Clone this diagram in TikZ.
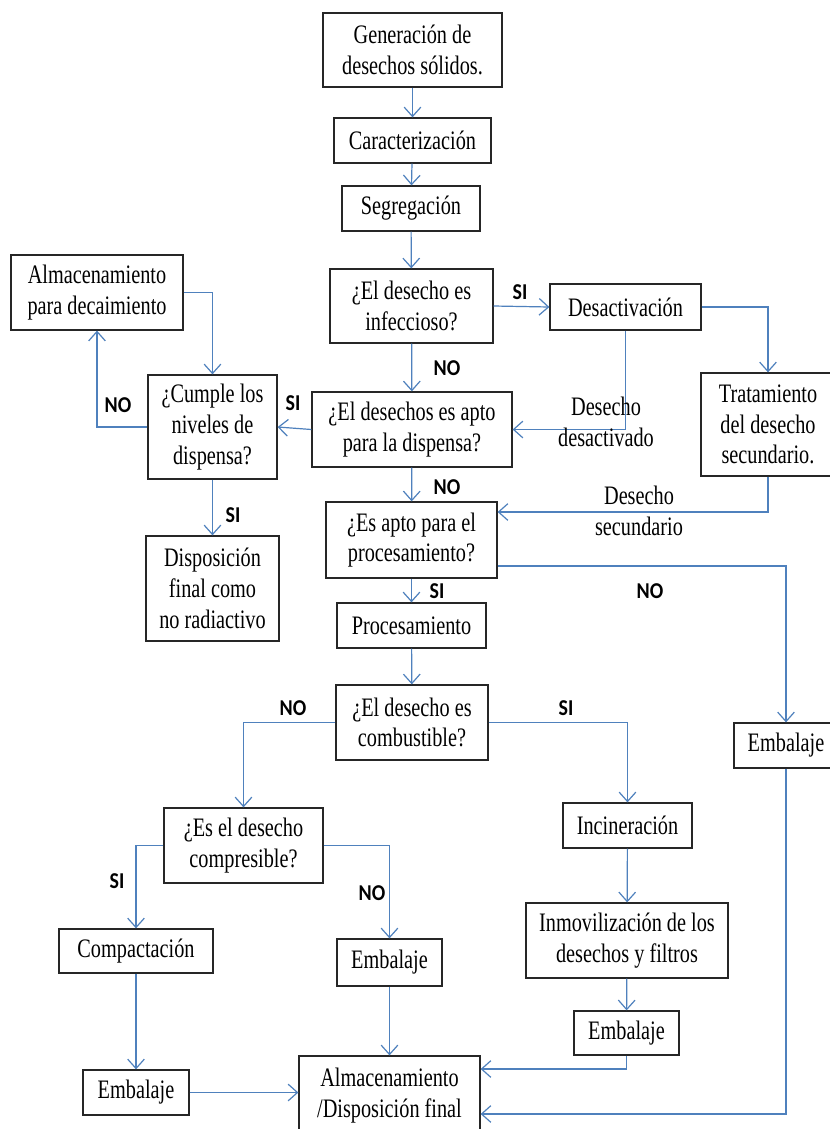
\documentclass[tikz,border=0pt]{standalone}
\usepackage{fontspec}
\setmainfont{Liberation Serif}[FakeStretch=0.76]
\newfontfamily\labfont{Carlito}[FakeStretch=0.88]
\usetikzlibrary{arrows.meta}
\definecolor{linec}{HTML}{4F81BD}
\definecolor{boxc}{HTML}{262626}
\newcommand\pbox[6]{\node[box, minimum width={(#4-#2)*0.75pt}, minimum height={(#5-#3)*0.75pt}] (#1) at ({(#2+#4)/2},{(#3+#5)/2}) {#6};}
\begin{document}
\begin{tikzpicture}[x=0.75pt,y=-0.75pt,
  box/.style={draw=boxc, line width=0.95pt, fill=white, align=center, inner sep=0pt, font=\fontsize{20}{23}\selectfont},
  arr/.style={draw=linec, line width=0.9pt, -{Straight Barb[length=7pt,width=12.5pt]}},
  lab/.style={font=\labfont\bfseries\fontsize{17}{19}\selectfont, inner sep=0pt},
  note/.style={font=\fontsize{20}{23}\selectfont, align=center, inner sep=0pt}]
\useasboundingbox (0,0) rectangle (830,1129);
\clip (0,0) rectangle (830,1129);
\fill[white] (0,0) rectangle (830,1129);

\pbox{gen}{323}{13}{502}{87}{Generación de\\desechos sólidos.}
\pbox{car}{334}{118}{491}{163}{Caracterización}
\pbox{seg}{342}{186}{480}{231}{Segregación}
\pbox{inf}{330}{269}{493}{343}{¿El desecho es\\infeccioso?}
\pbox{des}{550}{284}{701}{330}{Desactivación}
\pbox{alm}{11}{255}{183}{330}{Almacenamiento\\para decaimiento}
\pbox{cum}{148}{375}{277}{479}{¿Cumple los\\niveles de\\dispensa?}
\pbox{apto}{312}{392}{512}{467}{¿El desechos es apto\\para la dispensa?}
\pbox{trat}{701}{373}{835}{476}{Tratamiento\\del desecho\\secundario.}
\pbox{disp}{146}{536}{279}{641}{Disposición\\final como\\no radiactivo}
\pbox{proc}{326}{502}{497}{578}{¿Es apto para el\\procesamiento?}
\pbox{embR}{734}{723}{838}{768}{Embalaje}
\pbox{procm}{337}{603}{486}{648}{Procesamiento}
\pbox{comb}{336}{685}{488}{760}{¿El desecho es\\combustible?}
\pbox{compr}{164}{808}{323}{883}{¿Es el desecho\\compresible?}
\pbox{inc}{563}{803}{692}{848}{Incineración}
\pbox{compa}{59}{929}{213}{973}{Compactación}
\pbox{embM}{337}{939}{442}{986}{Embalaje}
\pbox{inm}{526}{903}{728}{978}{Inmovilización de los\\desechos y filtros}
\pbox{embI}{574}{1011}{679}{1055}{Embalaje}
\pbox{embL}{83}{1070}{189}{1115}{Embalaje}
\pbox{fin}{299}{1056}{480}{1135}{Almacenamiento\\/Disposición final}

\draw[arr] (gen) -- (car);
\draw[arr] (car) -- (seg);
\draw[arr] (seg) -- (inf);
\draw[arr] (inf.east) -- (des.west);
\draw[arr] (des.east) -| (trat.north);
\draw[arr] (des.south) |- (apto.east);
\draw[arr] (inf) -- (apto);
\draw[arr] (apto.west) -- (cum.east);
\draw[arr] (cum.west) -| (alm.south);
\draw[arr] (alm.east) -| (cum.north);
\draw[arr] (cum) -- (disp);
\draw[arr] (apto) -- (proc);
\draw[arr] (trat.south) |- (proc.east |- 0,512);
\draw[arr] (proc.east |- 0,566) -| (embR.north);
\draw[arr] (proc) -- (procm);
\draw[arr] (procm) -- (comb);
\draw[arr] (comb.west) -| (compr.north);
\draw[arr] (comb.east) -| (inc.north);
\draw[arr] (compr.west) -| (compa.north);
\draw[arr] (compr.east) -| (embM.north);
\draw[arr] (inc) -- (inm);
\draw[arr] (inm) -- (embI);
\draw[arr] (compa) -- (embL);
\draw[arr] (embL.east) -- (embL.east -| fin.west);
\draw[arr] (embM.south) -- (embM.south |- fin.north);
\draw[arr] (embI.south) |- (fin.east |- 0,1069);
\draw[arr] (embR.south) |- (fin.east |- 0,1114);

\node[lab] (l1) at (520,292) {SI};
\node[lab] (l2) at (447,368) {NO};
\node[lab] (l3) at (293,403) {SI};
\node[lab] (l4) at (118,405) {NO};
\node[lab] (l5) at (447,487) {NO};
\node[lab] (l6) at (233,515) {SI};
\node[lab] (l7) at (437,591) {SI};
\node[lab] (l8) at (650,591) {NO};
\node[lab] (l9) at (293,708) {NO};
\node[lab] (l10) at (566,708) {SI};
\node[lab] (l11) at (117,881) {SI};
\node[lab] (l12) at (372,893) {NO};
\node[note] (n1) at (606,422) {Desecho\\desactivado};
\node[note] (n2) at (639,511) {Desecho\\secundario};
\end{tikzpicture}
\end{document}
